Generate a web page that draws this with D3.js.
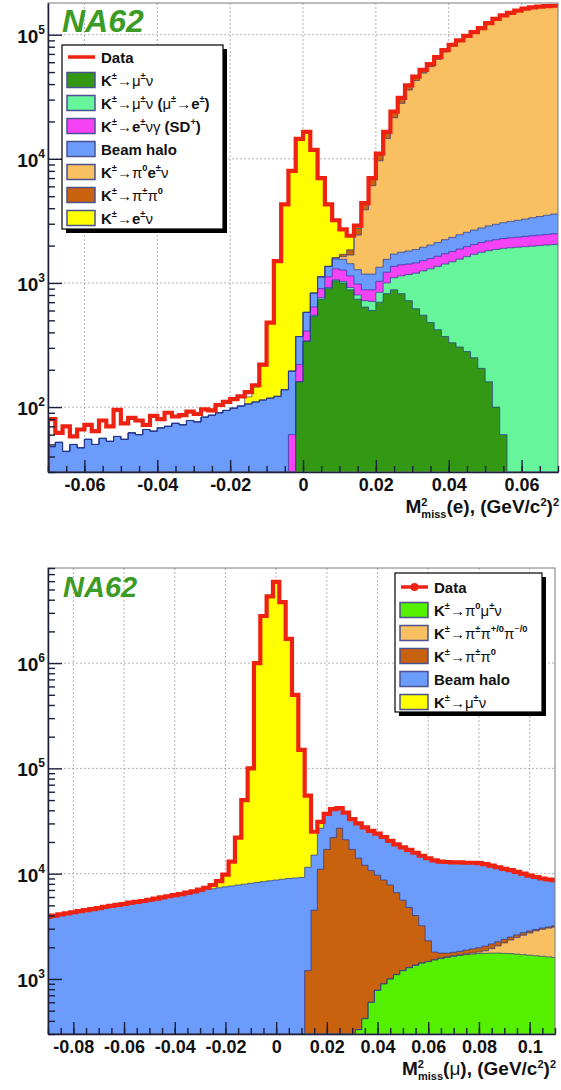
<!DOCTYPE html>
<html lang="en">
<head>
<meta charset="UTF-8">
<title>NA62 missing mass spectra</title>
<script src="https://d3js.org/d3.v7.min.js"></script>
<style>
  body { margin: 0; background: #fff; }
  text { font-family: "Liberation Sans", Arial, sans-serif; }
</style>
</head>
<body>
<script>
// ---------- top panel: M2miss(e), 70 bins of 0.002 from -0.07 ----------
const eTicks = [-0.06, -0.04, -0.02, 0, 0.02, 0.04, 0.06];
const eDecades = [1e2, 1e3, 1e4, 1e5];
const eLabels = ["Data", "K^{±}→μ^{±}ν", "K^{±}→μ^{±}ν (μ^{±}→e^{±})", "K^{±}→e^{±}νγ (SD^{+})",
                 "Beam halo", "K^{±}→π^{0}e^{±}ν", "K^{±}→π^{±}π^{0}", "K^{±}→e^{±}ν"];

const eData = [
  80, 62, 70, 58, 66, 72, 64, 78, 70, 95,
  74, 82, 78, 72, 85, 80, 90, 84, 86, 92,
  88, 96, 94, 104, 110, 116, 122, 132, 150, 220,
  480, 1500, 4300, 8000, 14500, 16500, 11800, 7000, 4300, 3200,
  2700, 2400, 2900, 4400, 7000, 11000, 16500, 24000, 31000, 39000,
  46000, 52000, 58000, 66000, 75000, 83000, 90000, 98000, 105000, 113000,
  124000, 134000, 143000, 150000, 156000, 162000, 166000, 168000, 170000, 171000];
const eMuNu = [
  0, 0, 0, 0, 0, 0, 0, 0, 0, 0,
  0, 0, 0, 0, 0, 0, 0, 0, 0, 0,
  0, 0, 0, 0, 0, 0, 0, 0, 0, 0,
  0, 0, 0, 20, 160, 340, 540, 740, 900, 1040,
  1000, 880, 740, 640, 600, 700, 820, 880, 820, 720,
  620, 550, 480, 420, 370, 330, 305, 280, 250, 205,
  160, 100, 60, 20, 0, 0, 0, 0, 0, 0];
const eMuNuDecay = [
  0, 0, 0, 0, 0, 0, 0, 0, 0, 0,
  0, 0, 0, 0, 0, 0, 0, 0, 0, 0,
  0, 0, 0, 0, 0, 0, 0, 0, 0, 0,
  0, 0, 0, 0, 0, 0, 10, 20, 20, 20,
  30, 40, 60, 80, 110, 140, 180, 220, 320, 450,
  580, 700, 820, 940, 1050, 1150, 1250, 1350, 1450, 1560,
  1660, 1760, 1840, 1900, 1940, 1960, 1980, 2000, 2020, 2040];
const eSD = [
  0, 0, 0, 0, 0, 0, 0, 0, 0, 0,
  0, 0, 0, 0, 0, 0, 0, 0, 0, 0,
  0, 0, 0, 0, 0, 0, 0, 0, 0, 0,
  0, 0, 10, 40, 60, 70, 90, 140, 200, 240,
  240, 220, 180, 160, 170, 190, 220, 260, 260, 250,
  250, 260, 270, 280, 300, 310, 320, 330, 340, 350,
  360, 370, 380, 390, 400, 410, 420, 430, 440, 450];
const eHalo = [
  48, 52, 44, 50, 47, 55, 50, 56, 53, 58,
  55, 62, 60, 66, 64, 68, 70, 74, 72, 78,
  76, 83, 86, 90, 94, 98, 102, 106, 110, 114,
  118, 122, 128, 135, 150, 170, 190, 220, 240, 260,
  280, 290, 300, 300, 300, 310, 330, 350, 370, 390,
  410, 430, 450, 480, 510, 540, 570, 600, 630, 660,
  700, 740, 780, 820, 860, 900, 950, 1000, 1050, 1100];
const ePi0ENu = [
  0, 0, 0, 0, 0, 0, 0, 0, 0, 0,
  0, 0, 0, 0, 0, 0, 0, 0, 0, 0,
  0, 0, 0, 0, 0, 0, 0, 0, 0, 0,
  0, 0, 0, 0, 0, 0, 0, 0, 0, 20,
  80, 250, 1150, 2700, 4900, 8300, 13000, 19700, 26200, 34000,
  40900, 47100, 53200, 61300, 70400, 78500, 85600, 93600, 100700, 108800,
  119900, 130000, 139100, 146300, 152400, 158400, 162500, 164500, 166400, 167300];
const ePiPi0 = [
  0, 0, 0, 0, 0, 0, 0, 0, 0, 0,
  0, 0, 0, 0, 0, 0, 0, 0, 0, 0,
  0, 0, 0, 0, 0, 0, 0, 0, 0, 0,
  0, 0, 0, 0, 0, 0, 0, 0, 0, 20,
  70, 170, 320, 550, 900, 1400, 2000, 2600, 3000, 3200,
  3200, 3000, 2800, 2600, 2400, 2200, 2000, 1800, 1600, 1400,
  1200, 1000, 800, 600, 400, 300, 200, 100, 100, 100];
const eENu = [
  0, 0, 0, 0, 0, 0, 0, 0, 0, 0,
  0, 0, 0, 0, 0, 0, 0, 0, 0, 0,
  0, 0, 0, 0, 0, 0, 0, 15, 35, 100,
  360, 1370, 4160, 7800, 14100, 15900, 11000, 5900, 2900, 1600,
  1000, 550, 150, 0, 0, 0, 0, 0, 0, 0,
  0, 0, 0, 0, 0, 0, 0, 0, 0, 0,
  0, 0, 0, 0, 0, 0, 0, 0, 0, 0];

// ---------- bottom panel: M2miss(mu), 81 bins of 0.0025 centred on -0.09 ... 0.11 ----------
const mTicks = [-0.08, -0.06, -0.04, -0.02, 0, 0.02, 0.04, 0.06, 0.08, 0.1];
const mDecades = [1e3, 1e4, 1e5, 1e6];
const mLabels = ["Data", "K^{±}→π^{0}μ^{±}ν", "K^{±}→π^{±}π^{+/0}π^{−/0}", "K^{±}→π^{±}π^{0}",
                 "Beam halo", "K^{±}→μ^{±}ν"];

const mData = [
  3900, 4000, 4100, 4200, 4300, 4400, 4500, 4600, 4700, 4850,
  4950, 5050, 5150, 5300, 5400, 5500, 5650, 5800, 5950, 6100,
  6250, 6400, 6600, 6800, 7050, 7350, 7800, 8500, 9800, 13000,
  22000, 50000, 100000, 1000000, 2800000, 4300000, 5900000, 3800000, 1700000, 500000,
  150000, 55000, 25000, 31000, 37000, 41000, 42000, 38000, 33000, 30000,
  27500, 25500, 24000, 22300, 20500, 19000, 17800, 16800, 15800, 14800,
  14000, 13400, 13000, 12900, 12800, 12800, 12700, 12700, 12600, 12300,
  11900, 11500, 11100, 10800, 10400, 10000, 9600, 9300, 9000, 8800,
  8700];
const mKmu3 = [
  0, 0, 0, 0, 0, 0, 0, 0, 0, 0,
  0, 0, 0, 0, 0, 0, 0, 0, 0, 0,
  0, 0, 0, 0, 0, 0, 0, 0, 0, 0,
  0, 0, 0, 0, 0, 0, 0, 0, 0, 0,
  0, 0, 0, 0, 0, 0, 0, 0, 0, 330,
  420, 600, 780, 900, 1000, 1100, 1200, 1280, 1350, 1420,
  1460, 1510, 1560, 1600, 1640, 1670, 1700, 1720, 1740, 1750,
  1760, 1760, 1750, 1740, 1720, 1700, 1680, 1660, 1640, 1620,
  1600];
const mK3pi = [
  0, 0, 0, 0, 0, 0, 0, 0, 0, 0,
  0, 0, 0, 0, 0, 0, 0, 0, 0, 0,
  0, 0, 0, 0, 0, 0, 0, 0, 0, 0,
  0, 0, 0, 0, 0, 0, 0, 0, 0, 0,
  0, 0, 0, 0, 0, 0, 0, 0, 0, 0,
  0, 0, 0, 0, 0, 0, 0, 0, 0, 0,
  10, 20, 20, 20, 20, 25, 30, 40, 60, 100,
  180, 300, 450, 600, 750, 900, 1050, 1200, 1320, 1420,
  1500];
const mK2pi = [
  0, 0, 0, 0, 0, 0, 0, 0, 0, 0,
  0, 0, 0, 0, 0, 0, 0, 0, 0, 0,
  0, 0, 0, 0, 0, 0, 0, 0, 0, 0,
  0, 0, 0, 0, 0, 0, 0, 0, 0, 0,
  0, 1200, 4500, 11000, 17000, 22000, 27000, 21000, 17000, 13700,
  11600, 10100, 8900, 7800, 6800, 5500, 4400, 3500, 2650, 1780,
  830, 270, 180, 140, 130, 135, 150, 170, 180, 200,
  210, 190, 180, 160, 150, 150, 120, 90, 90, 80,
  100];
const mHalo = [
  3800, 3900, 4000, 4100, 4200, 4300, 4400, 4500, 4600, 4700,
  4800, 4900, 5000, 5150, 5250, 5350, 5500, 5650, 5800, 5950,
  6100, 6250, 6400, 6600, 6850, 7100, 7200, 7350, 7500, 7650,
  7800, 7950, 8100, 8250, 8400, 8550, 8700, 8850, 9000, 9100,
  9200, 10300, 10500, 16000, 20000, 19000, 15000, 17000, 16000, 16000,
  15500, 14800, 14300, 13600, 12700, 12400, 12200, 12000, 11800, 11600,
  11700, 11600, 11200, 11100, 11000, 11000, 10800, 10800, 10600, 10300,
  9750, 9250, 8700, 8300, 7800, 7250, 6750, 6350, 5950, 5700,
  5500];
const mMuNu = [
  0, 0, 0, 0, 0, 0, 0, 0, 0, 0,
  0, 0, 0, 0, 0, 0, 0, 0, 0, 0,
  0, 0, 0, 0, 0, 250, 600, 1150, 2300, 5350,
  14200, 42000, 91900, 991700, 2791600, 4291400, 5891300, 3791100, 1691000, 490900,
  140800, 43500, 10000, 4000, 0, 0, 0, 0, 0, 0,
  0, 0, 0, 0, 0, 0, 0, 0, 0, 0,
  0, 0, 0, 0, 0, 0, 0, 0, 0, 0,
  0, 0, 0, 0, 0, 0, 0, 0, 0, 0,
  0];

// ---------- styles ----------
const RED = "#ee2211", NAVY = "#24338f";
const C = {
  darkGreen: "#339914", lightGreen: "#66f59a", magenta: "#f542f5", halo: "#6b9bfb",
  orange: "#f8c060", brown: "#c8620e", yellow: "#ffff00", lime: "#55f000"
};

const panels = [
  {
    id: "e", left: 48, right: 558, top: 3, bottom: 472,
    xDomain: [-0.07, 0.07], yDomain: [30, 1.8e5], binStart: -0.07, binWidth: 0.002,
    ticks: eTicks, decades: eDecades, data: eData,
    series: [
      { key: "munu", values: eMuNu, color: C.darkGreen },
      { key: "munuDecay", values: eMuNuDecay, color: C.lightGreen },
      { key: "sd", values: eSD, color: C.magenta },
      { key: "halo", values: eHalo, color: C.halo },
      { key: "ke3", values: ePi0ENu, color: C.orange },
      { key: "k2pi", values: ePiPi0, color: C.brown },
      { key: "enu", values: eENu, color: C.yellow }
    ],
    labels: eLabels, var: "e",
    logo: { x: 62, y: 32, size: 32 },
    legend: { x: 62, y: 45, w: 161, h: 184, y0: 57, step: 23, marker: false },
    titleY: 513
  },
  {
    id: "m", left: 48, right: 555, top: 568, bottom: 1034,
    xDomain: [-0.09, 0.11], yDomain: [300, 8e6], binStart: -0.09125, binWidth: 0.0025,
    ticks: mTicks, decades: mDecades, data: mData,
    series: [
      { key: "kmu3", values: mKmu3, color: C.lime },
      { key: "k3pi", values: mK3pi, color: C.orange },
      { key: "k2pi", values: mK2pi, color: C.brown },
      { key: "halo", values: mHalo, color: C.halo },
      { key: "munu", values: mMuNu, color: C.yellow }
    ],
    labels: mLabels, var: "μ",
    logo: { x: 63, y: 597, size: 29 },
    legend: { x: 395, y: 573, w: 147, h: 139, y0: 587, step: 23, marker: true },
    titleY: 1075
  }
];

const svg = d3.select("body").append("svg").attr("width", 561).attr("height", 1090);
svg.append("rect").attr("width", 561).attr("height", 1090).attr("fill", "#fff");

const GREEK = /[\u0370-\u03ff\u2190-\u21ff\u2212]/;

// writes "K^{±}→μ^{±}ν" style labels as tspans, greek letters in normal weight
function rich(textSel, str, size) {
  const parts = str.split(/(\^\{[^}]*\})/).filter(s => s.length);
  let shift = 0;
  parts.forEach(p => {
    let content = p, target = 0, fs = size;
    if (p.startsWith("^{")) { content = p.slice(2, -1); target = -0.42 * size; fs = 0.62 * size; }
    const runs = content.match(/[\u0370-\u03ff\u2190-\u21ff\u2212]+|[^\u0370-\u03ff\u2190-\u21ff\u2212]+/g) || [];
    runs.forEach((r, k) => {
      const t = textSel.append("tspan").attr("font-size", fs).text(r);
      if (k === 0 && target !== shift) { t.attr("dy", target - shift); shift = target; }
      if (GREEK.test(r)) t.attr("font-weight", "normal");
    });
  });
}

function drawPanel(cfg) {
  const x = d3.scaleLinear().domain(cfg.xDomain).range([cfg.left, cfg.right]);
  const y = d3.scaleLog().domain(cfg.yDomain).range([cfg.bottom, cfg.top]).clamp(true);
  const g = svg.append("g");
  const clipId = "clip-" + cfg.id;
  svg.append("clipPath").attr("id", clipId).append("rect")
    .attr("x", cfg.left).attr("y", cfg.top)
    .attr("width", cfg.right - cfg.left).attr("height", cfg.bottom - cfg.top);

  // grid
  const grid = g.append("g").attr("stroke", "#a0a0a0").attr("stroke-width", 0.8)
    .attr("stroke-dasharray", "2,2");
  grid.selectAll("line.v").data(cfg.ticks).join("line")
    .attr("x1", d => x(d)).attr("x2", d => x(d)).attr("y1", cfg.top).attr("y2", cfg.bottom);
  grid.selectAll("line.h").data(cfg.decades).join("line")
    .attr("x1", cfg.left).attr("x2", cfg.right).attr("y1", d => y(d)).attr("y2", d => y(d));

  // stacked histogram
  const n = cfg.data.length;
  const edges = d3.range(n + 1).map(i => cfg.binStart + i * cfg.binWidth);
  const rows = d3.range(n).map(i => {
    const r = {};
    cfg.series.forEach(s => { r[s.key] = s.values[i]; });
    return r;
  });
  const stacked = d3.stack().keys(cfg.series.map(s => s.key))(rows);
  const steps = vals => vals.map((v, i) => ({ e: edges[i], v })).concat([{ e: edges[n], v: vals[n - 1] }]);
  const yv = v => y(Math.max(v, 1e-3));
  const area = d3.area().curve(d3.curveStepAfter).x(p => x(p.e)).y0(cfg.bottom).y1(p => yv(p.v));
  const line = d3.line().curve(d3.curveStepAfter).x(p => x(p.e)).y(p => yv(p.v));

  const plot = g.append("g").attr("clip-path", `url(#${clipId})`);
  for (let k = stacked.length - 1; k >= 0; k--) {
    const pts = steps(stacked[k].map(d => d[1]));
    plot.append("path").attr("d", area(pts)).attr("fill", cfg.series[k].color);
  }
  for (let k = 0; k < stacked.length; k++) {
    const pts = steps(stacked[k].map(d => d[1]));
    plot.append("path").attr("d", line(pts)).attr("fill", "none")
      .attr("stroke", NAVY).attr("stroke-width", 0.9).attr("stroke-opacity", 0.75);
  }
  // data histogram
  const dpts = [{ e: edges[0], v: 1e-3 }].concat(steps(cfg.data));
  plot.append("path").attr("d", line(dpts)).attr("fill", "none")
    .attr("stroke", RED).attr("stroke-width", 4.2).attr("stroke-linejoin", "miter");

  // frame
  g.append("rect").attr("x", cfg.left).attr("y", cfg.top)
    .attr("width", cfg.right - cfg.left).attr("height", cfg.bottom - cfg.top)
    .attr("fill", "none").attr("stroke", "#7a7a7a").attr("stroke-width", 1);

  // x axis (ticks inside)
  const fmt = v => (Math.abs(v) < 1e-9 ? "0" : String(+v.toFixed(2)));
  const minorX = d3.range(Math.ceil(cfg.xDomain[0] / 0.005), Math.floor(cfg.xDomain[1] / 0.005) + 1)
    .map(k => k * 0.005);
  g.append("g").attr("transform", `translate(0,${cfg.bottom})`)
    .call(d3.axisBottom(x).tickValues(minorX).tickSizeInner(-6).tickSizeOuter(0).tickFormat(""))
    .attr("color", "#1b1f3a").call(a => a.selectAll("line").attr("stroke-width", 1.4));
  g.append("g").attr("transform", `translate(0,${cfg.bottom})`)
    .call(d3.axisBottom(x).tickValues(cfg.ticks).tickSizeInner(-12).tickSizeOuter(0).tickPadding(6).tickFormat(fmt))
    .attr("color", "#1b1f3a").attr("font-size", 18).attr("font-weight", "bold")
    .attr("font-family", "Liberation Sans, Arial, sans-serif")
    .call(a => a.selectAll("line").attr("stroke-width", 1.4))
    .call(a => a.select(".domain").attr("stroke-width", 1.5))
    .call(a => a.selectAll("text").attr("fill", "#111"));

  // y axis (log, ticks inside)
  const [y0, y1] = cfg.yDomain;
  const minorY = [];
  for (let p = Math.floor(Math.log10(y0)); p <= Math.ceil(Math.log10(y1)); p++) {
    for (let m = 2; m <= 9; m++) {
      const v = m * Math.pow(10, p);
      if (v >= y0 && v <= y1) minorY.push(v);
    }
  }
  g.append("g").attr("transform", `translate(${cfg.left},0)`)
    .call(d3.axisLeft(y).tickValues(minorY).tickSizeInner(-7).tickSizeOuter(0).tickFormat(""))
    .attr("color", "#1b1f3a").call(a => a.selectAll("line").attr("stroke-width", 1.4));
  g.append("g").attr("transform", `translate(${cfg.left},0)`)
    .call(d3.axisLeft(y).tickValues(cfg.decades).tickSizeInner(-14).tickSizeOuter(0).tickFormat(""))
    .attr("color", "#1b1f3a")
    .call(a => a.selectAll("line").attr("stroke-width", 1.4))
    .call(a => a.select(".domain").attr("stroke-width", 1.5));
  const yl = g.append("g").attr("font-weight", "bold").attr("fill", "#111");
  cfg.decades.forEach(d => {
    const t = yl.append("text").attr("x", cfg.left - 3).attr("y", y(d) + 8).attr("text-anchor", "end");
    t.append("tspan").attr("font-size", 19).text("10");
    t.append("tspan").attr("font-size", 12).attr("dy", -9).text(String(Math.round(Math.log10(d))));
  });

  // axis title  M^2_miss(var), (GeV/c^2)^2
  const tt = g.append("text").attr("x", cfg.right + 1).attr("y", cfg.titleY)
    .attr("text-anchor", "end").attr("font-weight", "bold").attr("fill", "#111");
  tt.append("tspan").attr("font-size", 19).text("M");
  tt.append("tspan").attr("font-size", 11).attr("dy", -7).text("2");
  tt.append("tspan").attr("font-size", 11).attr("dx", -6).attr("dy", 12).text("miss");
  tt.append("tspan").attr("font-size", 19).attr("dy", -5).text("(");
  tt.append("tspan").attr("font-size", 19).attr("font-weight", cfg.var === "e" ? "bold" : "normal").text(cfg.var);
  tt.append("tspan").attr("font-size", 19).text("), (GeV/c");
  tt.append("tspan").attr("font-size", 11).attr("dy", -7).text("2");
  tt.append("tspan").attr("font-size", 19).attr("dy", 7).text(")");
  tt.append("tspan").attr("font-size", 11).attr("dy", -7).text("2");

  // NA62 logo
  g.append("text").attr("x", cfg.logo.x).attr("y", cfg.logo.y)
    .attr("font-size", cfg.logo.size).attr("font-weight", "bold").attr("font-style", "italic")
    .attr("fill", "#3c9b26").text("NA62");

  // legend
  const L = cfg.legend;
  const lg = g.append("g");
  lg.append("rect").attr("x", L.x + 4).attr("y", L.y + 4).attr("width", L.w).attr("height", L.h).attr("fill", "#000");
  lg.append("rect").attr("x", L.x).attr("y", L.y).attr("width", L.w).attr("height", L.h)
    .attr("fill", "#fff").attr("stroke", "#000").attr("stroke-width", 1.2);
  const colors = [null].concat(cfg.series.map(s => s.color));
  cfg.labels.forEach((lab, k) => {
    const cy = L.y0 + k * L.step;
    if (k === 0) {
      lg.append("line").attr("x1", L.x + 6).attr("x2", L.x + 33).attr("y1", cy).attr("y2", cy)
        .attr("stroke", RED).attr("stroke-width", 3.5);
      if (L.marker) lg.append("circle").attr("cx", L.x + 19.5).attr("cy", cy).attr("r", 4).attr("fill", RED);
    } else {
      lg.append("rect").attr("x", L.x + 5).attr("y", cy - 7.5).attr("width", 28).attr("height", 15)
        .attr("fill", colors[k]).attr("stroke", "#4a5290").attr("stroke-width", 1.5);
    }
    const t = lg.append("text").attr("x", L.x + 39).attr("y", cy + 5.5)
      .attr("font-weight", "bold").attr("fill", "#111");
    rich(t, lab, 15);
  });
}

panels.forEach(drawPanel);
</script>
</body>
</html>
